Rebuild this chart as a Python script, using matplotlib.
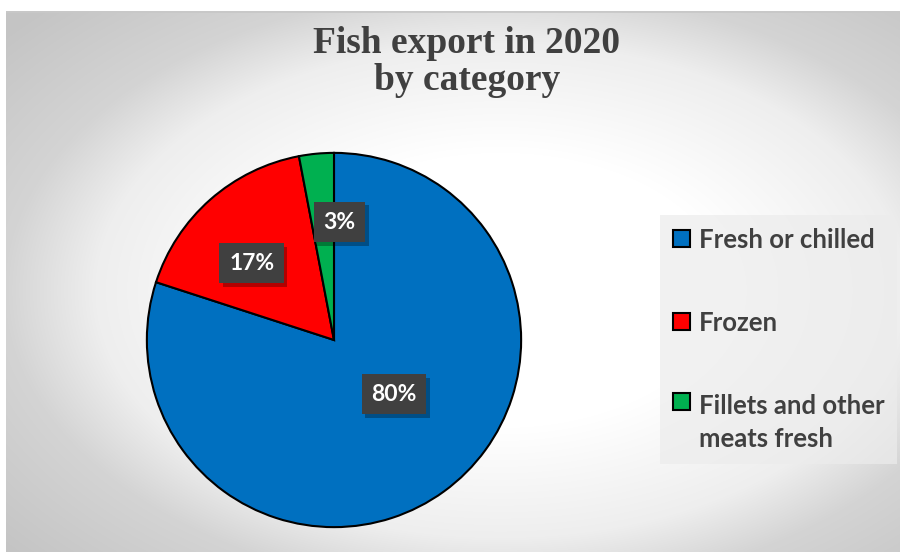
import matplotlib
matplotlib.use("Agg")
import matplotlib.pyplot as plt
import matplotlib.patheffects as pe
import numpy as np

categories = ["Fresh or chilled", "Frozen", "Fillets and other\nmeats fresh"]
shares = [80, 17, 3]
pct_labels = ["80%", "17%", "3%"]
colors = ["#0070C0", "#FF0000", "#00B050"]
# where the data labels sit, in pie radius units
label_pos = [(0.32, -0.29), (-0.44, 0.41), (0.03, 0.63)]

W, H = 900, 552
fig = plt.figure(figsize=(W / 100, H / 100), dpi=100)
fig.patch.set_facecolor("white")

# gradient background of the chart area
bg = fig.add_axes([6 / W, 0, (W - 6) / W, (H - 11) / H])
bg.set_axis_off()
yy, xx = np.mgrid[11:H, 6:W]
cx, cy = 500, 290
d = np.sqrt(((xx - cx) / 450.0) ** 2 + ((yy - cy) / 275.0) ** 2)
v = np.interp(d, [0, 0.5, 0.9, 1.1, 1.45], [255, 255, 238, 212, 196]) / 255.0
bg.imshow(np.dstack([v, v, v]), aspect="auto", extent=[0, 1, 0, 1], origin="upper")
bg.axhline(1, color="#c8c8c8", lw=2)
bg.set_xlim(0, 1)
bg.set_ylim(0, 1)

# pie
cxp, cyp, r = 334, 340, 189
ax = fig.add_axes([(cxp - r) / W, (H - cyp - r) / H, 2 * r / W, 2 * r / H])
wedges, _ = ax.pie(shares, colors=colors, startangle=90, counterclock=False,
                   radius=1, wedgeprops=dict(edgecolor="black", linewidth=1.5))
ax.set_xlim(-1.01, 1.01)
ax.set_ylim(-1.01, 1.01)
ax.set_aspect("equal")

for txt, (lx, ly) in zip(pct_labels, label_pos):
    t = ax.text(lx, ly, txt, ha="center", va="center", color="white",
                fontsize=16.5, fontweight="bold", family="Lato",
                bbox=dict(boxstyle="square,pad=0.42", facecolor="#404040",
                          edgecolor="none"))
    t.get_bbox_patch().set_path_effects(
        [pe.SimplePatchShadow(offset=(2.5, -2.5), shadow_rgbFace="black", alpha=0.3),
         pe.Normal()])

# title
fig.text(467 / W, 1 - 62 / H, "Fish export in 2020\nby category", ha="center",
         va="center", fontsize=27, fontweight="bold", family="Liberation Serif",
         color="#404040", linespacing=1.1)

# legend
leg = fig.legend(wedges, categories, loc="upper left",
                 bbox_to_anchor=(660 / W, 1 - 215 / H),
                 prop=dict(family="Lato", weight="bold", size=18.5),
                 labelcolor="#404040", frameon=True, fancybox=False,
                 handlelength=0.65, handleheight=0.65, handletextpad=0.35,
                 labelspacing=2.3, borderpad=0.5, borderaxespad=0)
for t in leg.get_texts():
    t.set_linespacing(1.45)
# put the last marker next to the first line of its two-line label
h = leg.legend_handles[2]
h.set_y(h.get_y() + 0.5 * 1.45 * 18.5 * 1.17)
frame = leg.get_frame()
frame.set_facecolor("#ececec")
frame.set_alpha(0.7)
frame.set_edgecolor("none")

fig.savefig("out.png", dpi=100)
